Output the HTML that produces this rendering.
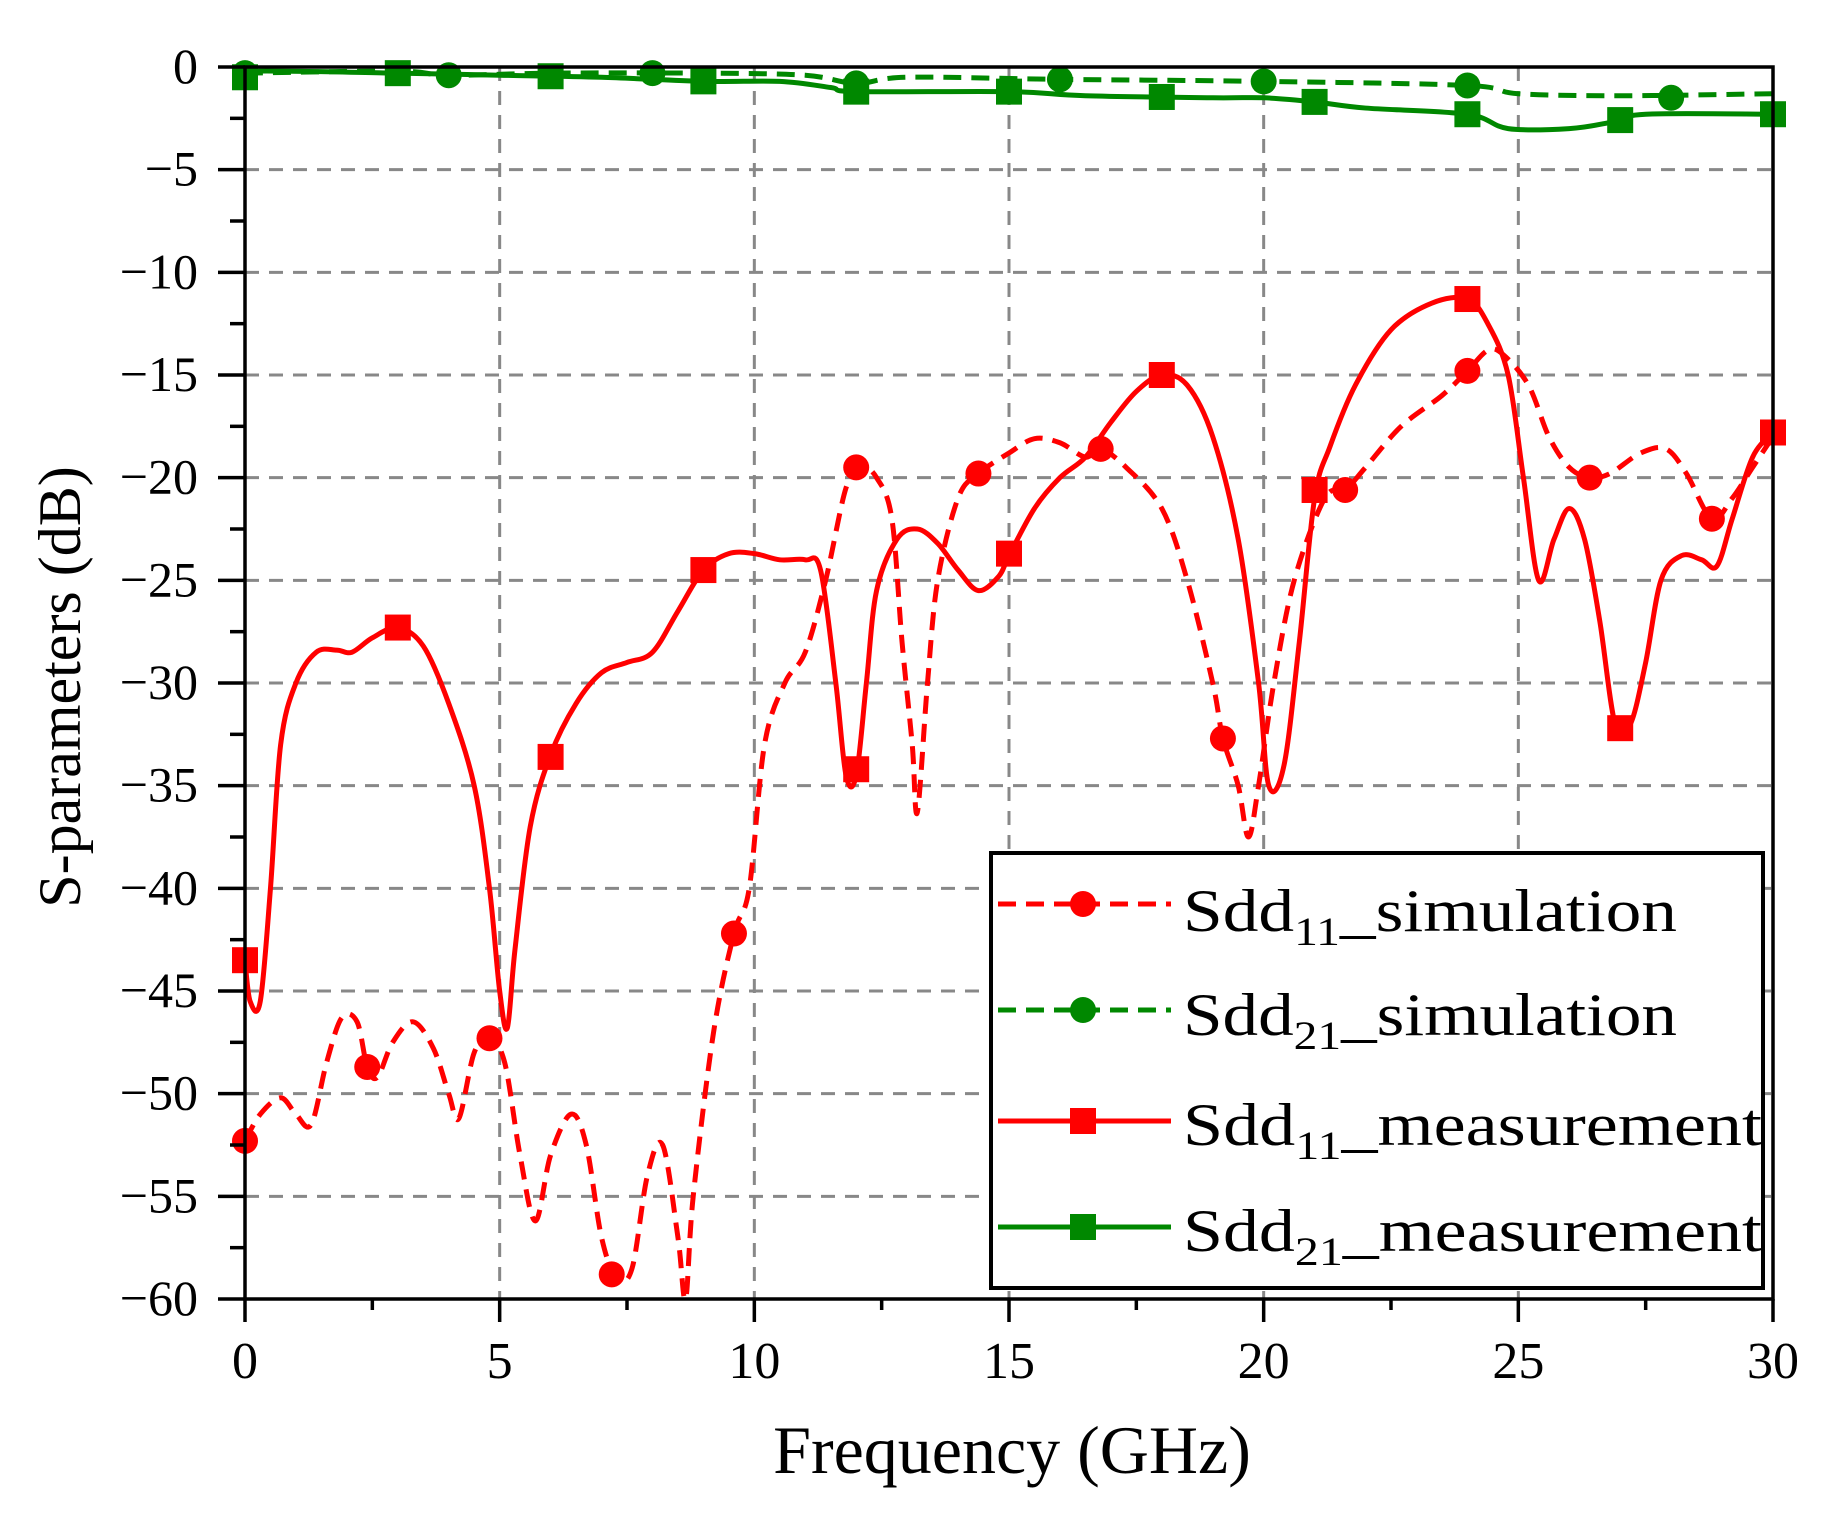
<!DOCTYPE html>
<html><head><meta charset="utf-8"><style>
html,body{margin:0;padding:0;background:#fff;}
svg{display:block;}
text{font-family:"Liberation Serif",serif;fill:#000;}
</style></head><body>
<svg id="s" width="1836" height="1514" viewBox="0 0 1836 1514" xmlns="http://www.w3.org/2000/svg">
<g id="grid"></g>
<g id="series"></g>
<g id="axes"></g>
<text x="1012" y="1473" font-size="68" text-anchor="middle">Frequency (GHz)</text>
<text transform="translate(80,687) rotate(-90)" font-size="60" text-anchor="middle">S-parameters (dB)</text>
<g id="legend">
<rect x="991" y="853" width="772" height="435" fill="#fff" stroke="#000" stroke-width="4"/>
<text x="1183" y="931" font-size="60" textLength="494" lengthAdjust="spacingAndGlyphs">Sdd<tspan font-size="40" dy="14">11</tspan><tspan dy="-14">_simulation</tspan></text>
<text x="1183" y="1035" font-size="60" textLength="494" lengthAdjust="spacingAndGlyphs">Sdd<tspan font-size="40" dy="14">21</tspan><tspan dy="-14">_simulation</tspan></text>
<text x="1183" y="1145" font-size="60" textLength="579" lengthAdjust="spacingAndGlyphs">Sdd<tspan font-size="40" dy="14">11</tspan><tspan dy="-14">_measurement</tspan></text>
<text x="1183" y="1251" font-size="60" textLength="579" lengthAdjust="spacingAndGlyphs">Sdd<tspan font-size="40" dy="14">21</tspan><tspan dy="-14">_measurement</tspan></text>
<line x1="998" y1="904" x2="1171" y2="904" stroke="#f00" stroke-width="5" stroke-dasharray="18,10"/>
<circle cx="1083" cy="904" r="13" fill="#f00"/>
<line x1="998" y1="1010" x2="1171" y2="1010" stroke="#080" stroke-width="5" stroke-dasharray="18,10"/>
<circle cx="1083" cy="1010" r="13" fill="#080"/>
<line x1="998" y1="1121" x2="1171" y2="1121" stroke="#f00" stroke-width="5"/>
<rect x="1070" y="1108" width="26" height="26" fill="#f00"/>
<line x1="998" y1="1227" x2="1171" y2="1227" stroke="#080" stroke-width="5"/>
<rect x="1070" y="1214" width="26" height="26" fill="#080"/>
</g>
</svg>
<script>
const NS="http://www.w3.org/2000/svg";
const X0=245,X1=1773,Y0=67,Y1=1299;
const fx=g=>X0+(X1-X0)*g/30, fy=d=>Y0+(Y1-Y0)*(-d)/60;
function el(p,t,a){const e=document.createElementNS(NS,t);for(const k in a)e.setAttribute(k,a[k]);p.appendChild(e);return e;}
const grid=document.getElementById('grid'),axes=document.getElementById('axes'),ser=document.getElementById('series');
for(let g=5;g<30;g+=5)el(grid,'line',{x1:fx(g),y1:Y0,x2:fx(g),y2:Y1,stroke:'#888','stroke-width':3,'stroke-dasharray':'14,10'});
for(let d=-5;d>-60;d-=5)el(grid,'line',{x1:X0,y1:fy(d),x2:X1,y2:fy(d),stroke:'#888','stroke-width':3,'stroke-dasharray':'14,10'});
el(axes,'rect',{x:X0,y:Y0,width:X1-X0,height:Y1-Y0,fill:'none',stroke:'#000','stroke-width':3.5});
for(let g=0;g<=30;g+=2.5){const maj=g%5==0;el(axes,'line',{x1:fx(g),y1:Y1,x2:fx(g),y2:Y1+(maj?23:11),stroke:'#000','stroke-width':3.5});
 if(maj){const t=el(axes,'text',{x:fx(g),y:1378,'font-size':52,'text-anchor':'middle'});t.textContent=g;}}
for(let d=0;d>=-60;d-=2.5){const maj=d%5==0;el(axes,'line',{x1:X0,y1:fy(d),x2:X0-(maj?27:15),y2:fy(d),stroke:'#000','stroke-width':3.5});
 if(maj){const t=el(axes,'text',{x:198,y:fy(d)+16,'font-size':50,'text-anchor':'end'});t.textContent=d==0?'0':'\u2212'+(-d);}}
function path(pts){const P=pts.map(p=>[fx(p[0]),fy(p[1])]);let s='M'+P[0][0]+','+P[0][1];
 for(let i=0;i<P.length-1;i++){const p0=P[Math.max(0,i-1)],p1=P[i],p2=P[i+1],p3=P[Math.min(P.length-1,i+2)];
 const k=6;s+=`C${p1[0]+(p2[0]-p0[0])/k},${p1[1]+(p2[1]-p0[1])/k} ${p2[0]-(p3[0]-p1[0])/k},${p2[1]-(p3[1]-p1[1])/k} ${p2[0]},${p2[1]}`;}return s;}
function interp(pts,g){for(let i=0;i<pts.length-1;i++){if(g>=pts[i][0]&&g<=pts[i+1][0]){const t=(g-pts[i][0])/(pts[i+1][0]-pts[i][0]||1);return pts[i][1]+t*(pts[i+1][1]-pts[i][1]);}}return pts[pts.length-1][1];}
function series(pts,col,dash,marks,shape){
 const a={d:path(pts),fill:'none',stroke:col,'stroke-width':5,'stroke-linejoin':'round'};if(dash)a['stroke-dasharray']='18,10';el(ser,'path',a);
 for(const m of marks){const g=m[0],d=m.length>1?m[1]:interp(pts,g);const x=fx(g),y=fy(d);
  if(shape=='c')el(ser,'circle',{cx:x,cy:y,r:13,fill:col});else el(ser,'rect',{x:x-13,y:y-13,width:26,height:26,fill:col});}}
const m11=[[0,-43.5],[0.1,-45.5],[0.3,-45.5],[0.5,-40],[0.7,-33],[1,-30],[1.4,-28.5],[1.8,-28.4],[2.1,-28.5],[2.5,-27.8],[3,-27.3],[3.5,-28.2],[4,-31],[4.5,-35],[4.8,-40],[5,-45],[5.15,-46.8],[5.3,-43],[5.6,-37],[6,-33.5],[6.5,-31],[7,-29.5],[7.5,-29],[8,-28.5],[8.5,-26.5],[9,-24.5],[9.5,-23.7],[10,-23.7],[10.5,-24],[11,-24],[11.3,-24.5],[11.6,-30],[11.8,-34.5],[12.0,-34.5],[12.2,-30],[12.4,-25.5],[12.8,-23],[13.2,-22.5],[13.6,-23.2],[14,-24.5],[14.4,-25.5],[14.8,-24.8],[15,-23.8],[15.5,-21.5],[16,-20],[16.5,-19],[17,-17.3],[17.5,-15.8],[18,-15],[18.5,-15.5],[19,-18],[19.5,-23],[19.9,-30],[20.1,-35],[20.4,-34],[20.7,-28],[21,-21],[21.3,-18.5],[21.8,-15.5],[22.5,-12.8],[23.3,-11.5],[24,-11.3],[24.4,-12.5],[24.8,-15],[25.1,-20],[25.4,-25],[25.7,-23],[26,-21.5],[26.3,-23],[26.6,-27],[26.9,-32],[27.2,-32],[27.5,-29],[27.8,-25],[28.2,-23.8],[28.6,-24],[28.9,-24.3],[29.2,-22],[29.6,-19],[30,-17.8]];
const s11=[[0,-52.3],[0.3,-51],[0.7,-50.2],[1,-51],[1.3,-51.5],[1.6,-48.5],[1.9,-46.3],[2.2,-46.5],[2.4,-48.7],[2.6,-49.2],[2.9,-47.5],[3.3,-46.5],[3.7,-47.8],[4.0,-50],[4.2,-51.2],[4.5,-48],[4.8,-47.3],[5.1,-48.5],[5.4,-53],[5.7,-56.2],[6,-53],[6.4,-51],[6.7,-52.5],[7.0,-57],[7.3,-59],[7.6,-58.5],[7.9,-54],[8.2,-52.5],[8.5,-57],[8.65,-60],[8.8,-55],[9.2,-47],[9.6,-42.2],[9.9,-40],[10.2,-33],[10.6,-30],[11,-28.5],[11.4,-25],[11.8,-20.5],[12.1,-19.5],[12.4,-20],[12.7,-22],[12.9,-28],[13.1,-33],[13.2,-36.3],[13.4,-30],[13.6,-25],[14,-21],[14.4,-19.8],[15,-18.8],[15.5,-18.1],[16,-18.3],[16.5,-19],[16.8,-18.6],[17.3,-19.5],[18,-21.5],[18.5,-25],[19,-30],[19.2,-32.7],[19.5,-35],[19.7,-37.5],[19.9,-35],[20.2,-30],[20.6,-25],[21.2,-21],[21.6,-20.6],[22,-19.5],[22.7,-17.5],[23.5,-16],[24,-14.8],[24.4,-13.8],[24.7,-14],[25.2,-15.5],[25.6,-18],[26,-19.5],[26.4,-20],[26.8,-19.8],[27.4,-18.8],[27.9,-18.6],[28.3,-19.8],[28.8,-22],[29.2,-21],[29.6,-19.5],[30,-18]];
const m21=[[0,-0.5],[0.2,-0.2],[3,-0.3],[5,-0.4],[7,-0.5],[9,-0.7],[10.5,-0.7],[11.5,-1.0],[12,-1.2],[15,-1.2],[16.5,-1.4],[19,-1.5],[20,-1.5],[21,-1.7],[22,-2.0],[24,-2.3],[24.8,-3.0],[26,-3.0],[26.8,-2.7],[27.5,-2.3],[30,-2.3]];
const s21=[[0,-0.3],[3,-0.2],[4,-0.4],[6,-0.3],[9,-0.3],[11,-0.4],[12,-0.8],[13,-0.5],[16,-0.6],[20,-0.7],[24,-0.9],[25,-1.3],[27,-1.4],[30,-1.3]];
series(s11,'#f00',true,[[0,-52.3],[2.4,-48.7],[4.8,-47.3],[7.2,-58.8],[9.6,-42.2],[12,-19.5],[14.4,-19.8],[16.8,-18.6],[19.2,-32.7],[21.6,-20.6],[24,-14.8],[26.4,-20],[28.8,-22]],'c');
series(s21,'#080',true,[[0],[4],[8],[12],[16],[20],[24],[28,-1.5]],'c');
series(m11,'#f00',false,[[0,-43.5],[3,-27.3],[6,-33.6],[9,-24.5],[12,-34.2],[15,-23.7],[18,-15],[21,-20.6],[24,-11.3],[27,-32.2],[30,-17.8]],'s');
series(m21,'#080',false,[[0],[3],[6],[9],[12],[15],[18],[21],[24],[27],[30]],'s');
document.getElementById('s').appendChild(document.getElementById('legend'));
</script>
</body></html>
